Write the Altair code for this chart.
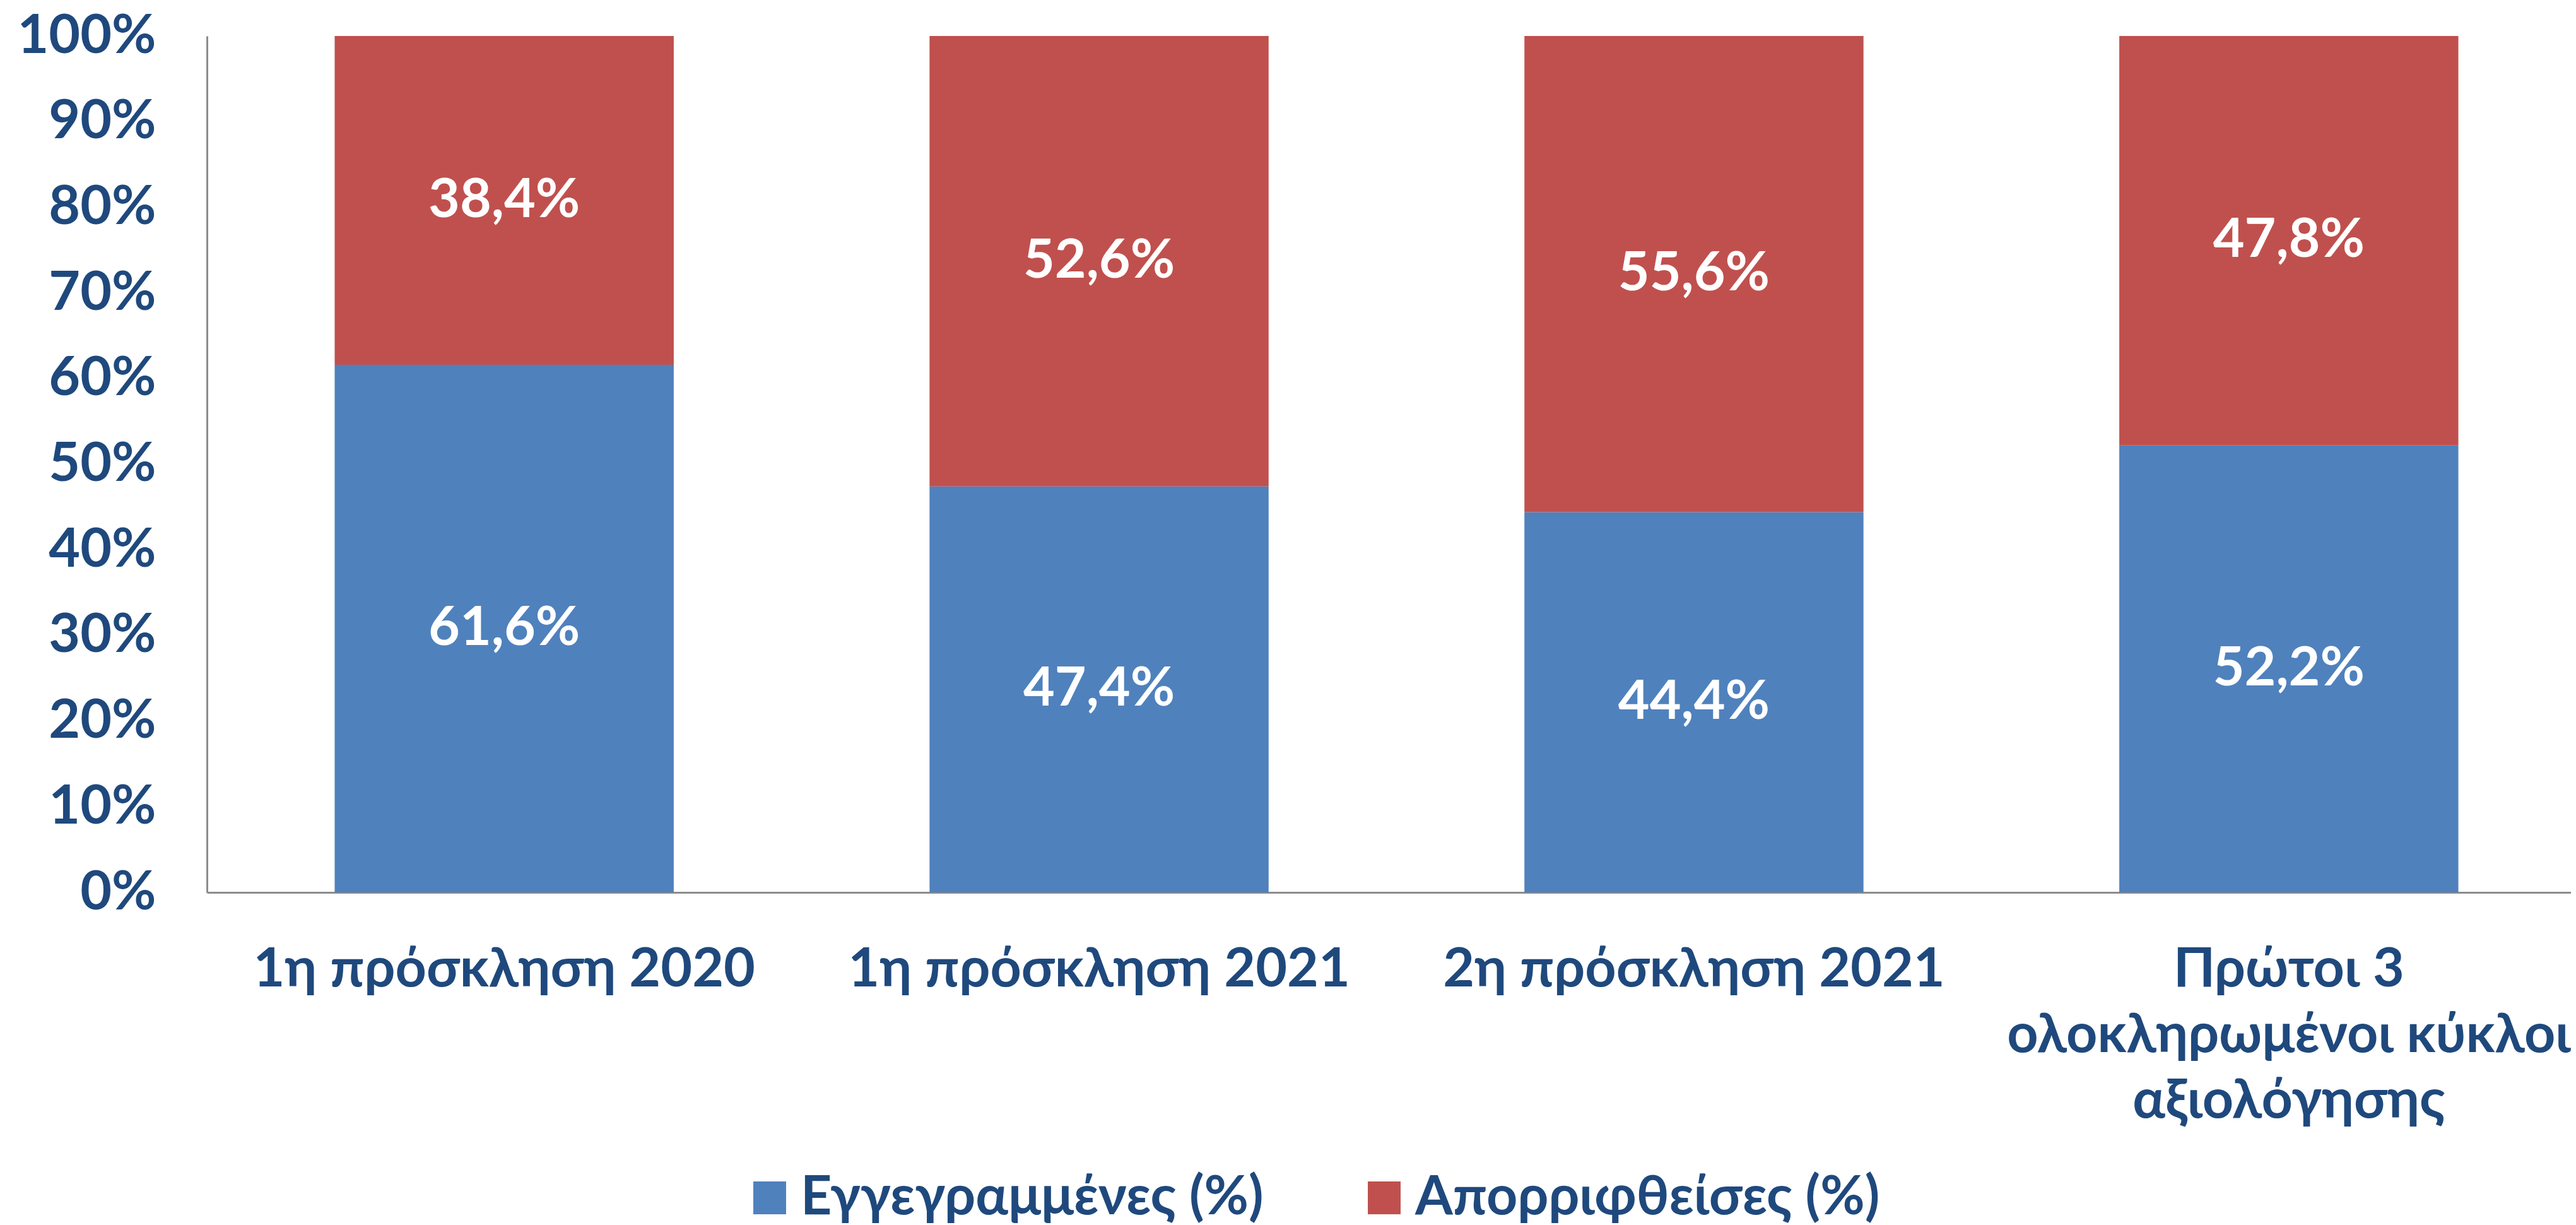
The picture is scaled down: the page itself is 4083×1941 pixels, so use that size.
import altair as alt
import pandas as pd

categories = [
    "1η πρόσκληση 2020",
    "1η πρόσκληση 2021",
    "2η πρόσκληση 2021",
    "Πρώτοι 3 ολοκληρωμένοι κύκλοι αξιολόγησης",
]
registered = [61.6, 47.4, 44.4, 52.2]
rejected = [38.4, 52.6, 55.6, 47.8]
series_names = ["Εγγεγραμμένες (%)", "Απορριφθείσες (%)"]
series_colors = ["#4F81BD", "#C0504D"]
y_ticks = [0, 10, 20, 30, 40, 50, 60, 70, 80, 90, 100]

rows = []
for i, cat in enumerate(categories):
    for order, (name, vals) in enumerate(zip(series_names, [registered, rejected])):
        v = vals[i]
        rows.append({
            "category": cat,
            "series": name,
            "value": v,
            "order": order,
            "label": f"{v:.1f}".replace(".", ",") + "%",
        })
df = pd.DataFrame(rows)

FONT = "Lato, 'Open Sans', sans-serif"
TEXT_COLOR = "#1F497D"
FS = 86
SHIFT = 12

x_axis = alt.Axis(
    title=None,
    labelAngle=0,
    ticks=False,
    domainColor="#8C8C8C",
    domainWidth=3,
    labelFont=FONT,
    labelFontSize=FS,
    labelFontWeight="bold",
    labelColor=TEXT_COLOR,
    labelBaseline="top",
    labelPadding=80,
    labelLineHeight=104,
    labelLimit=0,
    labelOffset=SHIFT,
    labelExpr="datum.label == 'Πρώτοι 3 ολοκληρωμένοι κύκλοι αξιολόγησης' ? ['Πρώτοι 3', 'ολοκληρωμένοι κύκλοι', 'αξιολόγησης'] : datum.label",
)
y_axis = alt.Axis(
    title=None,
    values=y_ticks,
    labelExpr="datum.value + '%'",
    ticks=False,
    grid=False,
    domainColor="#8C8C8C",
    domainWidth=3,
    labelFont=FONT,
    labelFontSize=FS,
    labelFontWeight="bold",
    labelColor=TEXT_COLOR,
    labelPadding=81,
    labelLimit=0,
)
x_scale = alt.Scale(paddingInner=0.43, paddingOuter=0.202)
y_scale = alt.Scale(domain=[0, 100], nice=False)

base = alt.Chart(df).transform_stack(
    stack="value",
    as_=["y0", "y1"],
    groupby=["category"],
    sort=[alt.SortField("order", order="ascending")],
)

bars = base.mark_bar(xOffset=SHIFT).encode(
    x=alt.X("category:N", sort=categories, scale=x_scale, axis=x_axis),
    y=alt.Y("y0:Q", scale=y_scale, axis=y_axis),
    y2="y1:Q",
    color=alt.Color(
        "series:N",
        scale=alt.Scale(domain=series_names, range=series_colors),
        legend=alt.Legend(
            title=None,
            orient="none",
            direction="horizontal",
            legendX=849,
            legendY=1798,
            symbolType="square",
            symbolSize=2700,
            symbolStrokeWidth=0,
            labelFont=FONT,
            labelFontSize=FS,
            labelFontWeight="bold",
            labelColor=TEXT_COLOR,
            labelOffset=6,
            columnPadding=148,
            labelLimit=0,
        ),
    ),
    order=alt.Order("order:Q"),
)

text = base.transform_calculate(mid="(datum.y0 + datum.y1) / 2").mark_text(
    color="white",
    font=FONT,
    fontSize=FS,
    fontWeight="bold",
    baseline="middle",
    align="center",
    xOffset=SHIFT,
).encode(
    x=alt.X("category:N", sort=categories, scale=x_scale, axis=x_axis),
    y=alt.Y("mid:Q", scale=y_scale, axis=y_axis),
    text="label:N",
)

chart = alt.layer(bars, text).properties(
    width=3747,
    height=1357,
    autosize=alt.AutoSizeParams(type="none"),
    padding={"left": 320, "top": 49, "right": 0, "bottom": 527},
).configure_view(stroke=None)

chart.save("out.html", embed_options={"renderer": "svg", "actions": False})
